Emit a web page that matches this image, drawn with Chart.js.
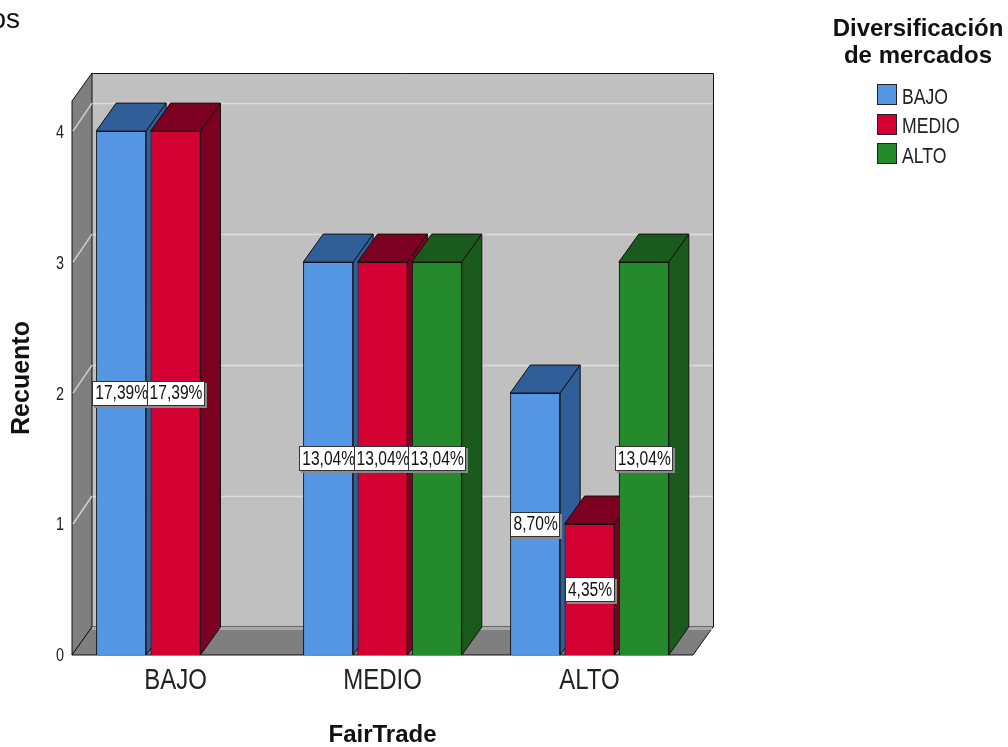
<!DOCTYPE html>
<html>
<head>
<meta charset="utf-8">
<script src="https://cdn.jsdelivr.net/npm/chart.js@4.4.1/dist/chart.umd.min.js"></script>
<style>
  html, body { margin: 0; padding: 0; background: #fff; overflow: hidden; }
  #wrap { position: relative; width: 1008px; height: 747px; overflow: hidden; }
  #chart { position: absolute; left: 0; top: 0; }
  #caption {
    position: absolute; right: 988px; top: 5px; white-space: nowrap;
    font: 28px 'Liberation Sans', Arial, sans-serif; line-height: 28px; color: #111;
  }
  #legend { position: absolute; left: 828px; top: 14px; width: 180px; }
  #legend .title {
    font: bold 24px 'Liberation Sans', Arial, sans-serif; line-height: 27px;
    text-align: center; color: #111;
  }
  #legend .items { position: absolute; left: 49px; top: 66px; }
  #legend .row { display: flex; align-items: center; height: 29.6px; }
  #legend .sw { width: 18px; height: 19px; border: 1px solid #222; margin-right: 5px; flex: none; }
  #legend .lbl {
    display: inline-block; font: 22px 'Liberation Sans', Arial, sans-serif; color: #222;
    transform: scaleX(0.8); transform-origin: left center; position: relative; top: 2px; white-space: nowrap;
  }
</style>
</head>
<body>
<div id="wrap">
  <canvas id="chart" width="1008" height="747"></canvas>
  <div id="caption">Diversificación de mercados</div>
  <div id="legend">
    <div class="title">Diversificación<br>de mercados</div>
    <div class="items" id="legendItems"></div>
  </div>
</div>
<script>
// FairTrade categories on the x axis
const categories = ['BAJO', 'MEDIO', 'ALTO'];
// Counts per "Diversificación de mercados" level
const seriesNames = ['BAJO', 'MEDIO', 'ALTO'];
const countsBajo  = [4, 3, 2];
const countsMedio = [4, 3, 1];
const countsAlto  = [0, 3, 3];
const yTicks = [0, 1, 2, 3, 4];

const frontColors = ['#5597E4', '#D50032', '#258A2B'];
const sideColors  = ['#305E98', '#7C0021', '#1A5A1D'];

// depth of the 3D extrusion, in pixels
const DX = 20, DY = -28;
// horizontal squeeze for the condensed label lettering
const SQUEEZE = 0.8;
const SANS = "'Liberation Sans', Arial, sans-serif";

const allSeries = [countsBajo, countsMedio, countsAlto];
const total = allSeries.flat().reduce((s, v) => s + v, 0);

function poly(ctx, pts, fill, stroke) {
  ctx.beginPath();
  ctx.moveTo(pts[0][0], pts[0][1]);
  for (let i = 1; i < pts.length; i++) ctx.lineTo(pts[i][0], pts[i][1]);
  ctx.closePath();
  if (fill) { ctx.fillStyle = fill; ctx.fill(); }
  if (stroke) { ctx.strokeStyle = stroke; ctx.lineWidth = 1; ctx.stroke(); }
}

function narrowText(ctx, txt, x, y, size, align, color) {
  ctx.save();
  ctx.font = size + 'px ' + SANS;
  ctx.textBaseline = 'middle';
  ctx.textAlign = align;
  ctx.fillStyle = color;
  ctx.translate(x, y);
  ctx.scale(SQUEEZE, 1);
  ctx.fillText(txt, 0, 0);
  ctx.restore();
}

// Back wall, side wall, floor and their gridlines
const boxPlugin = {
  id: 'box3d',
  beforeDatasetsDraw(chart) {
    const { ctx, chartArea: a, scales: { y } } = chart;
    const L = a.left, R = a.right, T = a.top, B = a.bottom;
    ctx.save();
    ctx.fillStyle = '#C0C0C0';
    ctx.fillRect(L + DX, T + DY, R - L, B - T);
    ctx.strokeStyle = '#DCDCDC';
    ctx.lineWidth = 1.5;
    yTicks.forEach(v => {
      if (v === 0) return;
      const py = Math.round(y.getPixelForValue(v)) + 0.5;
      ctx.beginPath();
      ctx.moveTo(L + DX, py + DY);
      ctx.lineTo(R + DX, py + DY);
      ctx.stroke();
    });
    ctx.strokeStyle = '#111';
    ctx.lineWidth = 1;
    ctx.beginPath();
    ctx.moveTo(L + DX, T + DY + 0.5);
    ctx.lineTo(R + DX + 0.5, T + DY + 0.5);
    ctx.lineTo(R + DX + 0.5, B + DY);
    ctx.stroke();
    // side wall
    poly(ctx, [[L, T], [L + DX, T + DY], [L + DX, B + DY], [L, B]], '#7F7F7F', '#111');
    ctx.strokeStyle = '#D0D0D0';
    ctx.lineWidth = 1.5;
    yTicks.forEach(v => {
      if (v === 0) return;
      const py = y.getPixelForValue(v);
      ctx.beginPath();
      ctx.moveTo(L + 1, py);
      ctx.lineTo(L + DX, py + DY);
      ctx.stroke();
    });
    // floor
    poly(ctx, [[L, B], [R, B], [R + DX, B + DY], [L + DX, B + DY]], '#7F7F7F', '#111');
    ctx.strokeStyle = '#A8A8A8';
    ctx.lineWidth = 3;
    ctx.beginPath();
    ctx.moveTo(L + DX, B + DY + 1.5);
    ctx.lineTo(R + DX - 1, B + DY + 1.5);
    ctx.stroke();
    ctx.restore();
  }
};

// Bars painted left to right inside each group: front face, top, side
const extrudePlugin = {
  id: 'extrude',
  afterDatasetsDraw(chart) {
    const { ctx } = chart;
    ctx.save();
    chart.data.datasets.forEach((ds, di) => {
      const meta = chart.getDatasetMeta(di);
      meta.data.forEach((el, i) => {
        const raw = ds.data[i];
        if (raw === null || raw === undefined) return;
        el.draw(ctx, chart.chartArea);
        const { x, y, base, width } = el.getProps(['x', 'y', 'base', 'width'], true);
        const l = x - width / 2, r = x + width / 2;
        poly(ctx, [[l, y], [r, y], [r + DX, y + DY], [l + DX, y + DY]], sideColors[di], '#111');
        poly(ctx, [[r, y], [r + DX, y + DY], [r + DX, base + DY], [r, base]], sideColors[di], '#111');
      });
    });
    ctx.restore();
  }
};

// Percentage boxes at mid-height of each bar, plus condensed axis tick labels
const labelPlugin = {
  id: 'pctLabels',
  afterDraw(chart) {
    const { ctx, scales: { x, y } } = chart;
    ctx.save();
    const size = 19.5;
    ctx.font = size + 'px ' + SANS;
    chart.data.datasets.forEach((ds, di) => {
      const meta = chart.getDatasetMeta(di);
      meta.data.forEach((el, i) => {
        const v = ds.data[i];
        if (v === null || v === undefined) return;
        const txt = (v / total * 100).toFixed(2).replace('.', ',') + '%';
        const cx = el.x;
        const cy = y.getPixelForValue(v / 2);
        const w = Math.ceil(ctx.measureText(txt).width * SQUEEZE) + 5;
        const h = 25;
        const bx = Math.round(cx - w / 2), by = Math.round(cy - h / 2);
        ctx.fillStyle = '#8A8A8A';
        ctx.fillRect(bx + 2, by + 2, w, h);
        ctx.fillStyle = '#FFFFFF';
        ctx.fillRect(bx, by, w, h);
        ctx.strokeStyle = '#333';
        ctx.lineWidth = 1;
        ctx.strokeRect(bx + 0.5, by + 0.5, w - 1, h - 1);
        narrowText(ctx, txt, cx + 0.5, cy + 1, size, 'center', '#111');
      });
    });
    // category labels
    x.ticks.forEach((t, i) => {
      narrowText(ctx, categories[i], x.getPixelForTick(i), 681, 30, 'center', '#222');
    });
    // count labels
    yTicks.forEach(v => {
      narrowText(ctx, String(v), x.left - 8, y.getPixelForValue(v) + 1.5, 18, 'right', '#222');
    });
    ctx.restore();
  }
};

const datasets = allSeries.map((arr, i) => ({
  label: seriesNames[i],
  data: arr.map(v => (v > 0 ? v : null)),
  backgroundColor: frontColors[i],
  borderColor: '#111',
  borderWidth: 1,
  categoryPercentage: 0.787,
  barPercentage: 0.92
}));

new Chart(document.getElementById('chart'), {
  type: 'bar',
  data: { labels: categories, datasets },
  options: {
    responsive: false,
    animation: false,
    events: [],
    layout: { padding: { left: 0, top: 101, right: 315, bottom: 0 } },
    plugins: {
      legend: { display: false },
      tooltip: { enabled: false },
      title: { display: false }
    },
    scales: {
      x: {
        grid: { display: false, drawTicks: false },
        border: { display: false },
        ticks: { display: false },
        title: {
          display: true, text: 'FairTrade', color: '#111',
          font: { family: SANS, size: 24, weight: 'bold', lineHeight: 1 },
          padding: { top: -6, bottom: 0 }
        },
        afterFit(s) { s.height = 92; }
      },
      y: {
        min: 0,
        max: 4.23,
        grid: { display: false, drawTicks: false },
        border: { display: false },
        afterBuildTicks(s) { s.ticks = yTicks.map(v => ({ value: v })); },
        ticks: { display: false },
        title: {
          display: true, text: 'Recuento', color: '#111',
          font: { family: SANS, size: 25, weight: 'bold', lineHeight: 1.2 },
          padding: { top: 7, bottom: 0 }
        },
        afterFit(s) { s.width = 72; }
      }
    }
  },
  plugins: [boxPlugin, extrudePlugin, labelPlugin]
});

// legend
const items = document.getElementById('legendItems');
seriesNames.forEach((n, i) => {
  const row = document.createElement('div');
  row.className = 'row';
  const sw = document.createElement('div');
  sw.className = 'sw';
  sw.style.background = frontColors[i];
  const lbl = document.createElement('span');
  lbl.className = 'lbl';
  lbl.textContent = n;
  row.appendChild(sw);
  row.appendChild(lbl);
  items.appendChild(row);
});
</script>
</body>
</html>
